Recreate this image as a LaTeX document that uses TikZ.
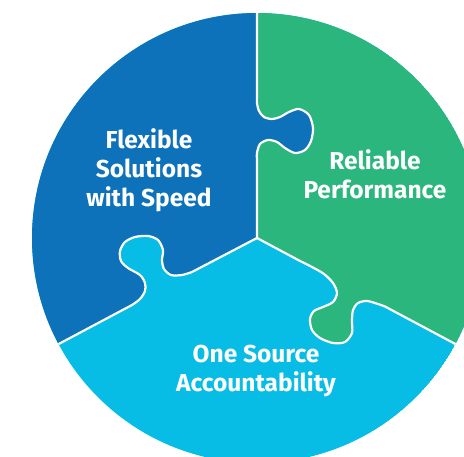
\documentclass[tikz,border=0pt]{standalone}
\usepackage{fontspec}
\setmainfont{Fira Sans}
\definecolor{pblue}{HTML}{0D72B9}
\definecolor{pgreen}{HTML}{2BB67E}
\definecolor{pcyan}{HTML}{07BCE5}
\tikzset{
  seam/.style={draw=white, line width=2.2pt, line join=round},
  lbl/.style={text=white, font=\fontsize{24.5}{29}\selectfont\bfseries, align=center, inner sep=0pt}
}
\begin{document}
\begin{tikzpicture}[x=1pt,y=-1pt]
\useasboundingbox (0,0) rectangle (464,456);
\clip (0,0) rectangle (464,456);
\coordinate (C) at (257,238);
\begin{scope}
\clip (C) circle (225);
\fill[pcyan] (C) circle (225);
% blue piece
\fill[pblue] (C) -- (257,160) -- plot[smooth] coordinates {(257,160) (257,153) (260,144) (268,140) (277,142) (285,148) (295,153) (305,150) (311,141) (313,128) (309,115) (299,109) (289,112) (280,117) (272,119) (264,117) (259,111) (257,103) (257,96)} -- (257,-5) -- (-5,-5) -- (-5,367) -- (20,364.6) -- (132,305) -- plot[smooth] coordinates {(132,305) (140,299) (145,291) (145,283) (140,275) (128,268) (121,261) (120,251) (125,242) (135,237) (148,236) (158,240) (163,250) (162,260) (164,269) (171,275) (182,275) (192,272)} -- (C) -- cycle;
% green piece
\fill[pgreen] (C) -- (257,160) -- plot[smooth] coordinates {(257,160) (257,153) (260,144) (268,140) (277,142) (285,148) (295,153) (305,150) (311,141) (313,128) (309,115) (299,109) (289,112) (280,117) (272,119) (264,117) (259,111) (257,103) (257,96)} -- (257,-5) -- (500,-5) -- (500,367) -- (494,364.6) -- (385,306.5) -- plot[smooth] coordinates {(385,306.5) (378,304) (367,301) (358,303) (353,310) (352,321) (352,333) (345,342) (333,343) (320,338) (312,330) (310,319) (314,311) (323,307) (333,302) (337,293) (333,283) (324,274) (312,267) (300,261)} -- (C) -- cycle;
% seams
\path[seam] (C) -- (257,160) -- plot[smooth] coordinates {(257,160) (257,153) (260,144) (268,140) (277,142) (285,148) (295,153) (305,150) (311,141) (313,128) (309,115) (299,109) (289,112) (280,117) (272,119) (264,117) (259,111) (257,103) (257,96)} -- (257,-5);
\path[seam] (C) -- (192,272) -- plot[smooth] coordinates {(192,272) (182,275) (171,275) (164,269) (162,260) (163,250) (158,240) (148,236) (135,237) (125,242) (120,251) (121,261) (128,268) (140,275) (145,283) (145,291) (140,299) (132,305)} -- (20,364.6);
\path[seam] (C) -- (300,261) -- plot[smooth] coordinates {(300,261) (312,267) (324,274) (333,283) (337,293) (333,302) (323,307) (314,311) (310,319) (312,330) (320,338) (333,343) (345,342) (352,333) (352,321) (353,310) (358,303) (367,301) (378,304) (385,306.5)} -- (494,364.6);
\end{scope}
\node[lbl] (flex) at (149,170) {Flexible\\Solutions\\with Speed};
\node[lbl] (rel) at (375,174) {Reliable\\Performance};
\node[lbl] (one) at (256,371) {One Source\\Accountability};
\end{tikzpicture}
\end{document}
